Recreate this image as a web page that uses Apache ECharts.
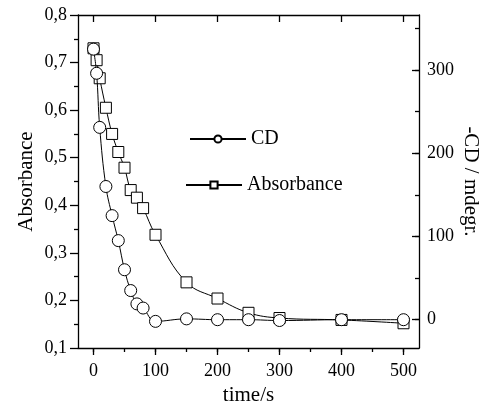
<!DOCTYPE html>
<html>
<head>
<meta charset="utf-8">
<script src="https://cdn.jsdelivr.net/npm/echarts@6/dist/echarts.min.js"></script>
<style>
html,body{margin:0;padding:0;background:#fff;}
#chart{width:486px;height:406px;}
</style>
</head>
<body>
<div id="chart"></div>
<script>
// Data
var time = [0, 5, 10, 20, 30, 40, 50, 60, 70, 80, 100, 150, 200, 250, 300, 400, 500];
var cdValues = [325, 296, 231, 160, 125, 95, 60, 35, 19, 14, -2, 1, 0, 0, -1, 0, 0];
var absorbanceValues = [0.730, 0.705, 0.667, 0.605, 0.550, 0.512, 0.479, 0.432, 0.416, 0.394, 0.338, 0.238, 0.204, 0.174, 0.163, 0.159, 0.152];
var xTickLabels = [0, 100, 200, 300, 400, 500];
var xMinorTicks = [0, 50, 100, 150, 200, 250, 300, 350, 400, 450, 500];
var cdTickLabels = [0, 100, 200, 300];
var cdMinorTicks = [0, 50, 100, 150, 200, 250, 300, 350];

var FONT = 'Liberation Serif';
function pairs(xs, ys) { return xs.map(function (x, i) { return [x, ys[i]]; }); }

var chart = echarts.init(document.getElementById('chart'), null, {renderer: 'canvas'});
var lineStyleAxis = {color: '#000', width: 1.3};
var option = {
  backgroundColor: '#fff',
  animation: false,
  textStyle: {fontFamily: FONT, color: '#000'},
  grid: {left: 78, right: 67, top: 15, bottom: 58, containLabel: false, outerBoundsMode: 'none'},
  legend: [
    {data: ['CD'], left: 189, top: 129, padding: 0, itemWidth: 56, itemHeight: 9, itemGap: 5,
     textStyle: {fontFamily: FONT, fontSize: 20, color: '#000'}},
    {data: ['Absorbance'], left: 185, top: 175, padding: 0, itemWidth: 56, itemHeight: 9, itemGap: 5,
     textStyle: {fontFamily: FONT, fontSize: 20, color: '#000'}}
  ],
  xAxis: [
    {type: 'value', min: -25, max: 525, position: 'bottom',
     name: 'time/s', nameLocation: 'middle', nameGap: 37, nameMoveOverlap: false,
     nameTextStyle: {fontFamily: FONT, fontSize: 21, color: '#000'},
     axisLine: {show: true, onZero: false, lineStyle: lineStyleAxis},
     axisTick: {show: true, customValues: xTickLabels, length: 7, lineStyle: lineStyleAxis},
     axisLabel: {show: true, customValues: xTickLabels, margin: 14, fontFamily: FONT, fontSize: 18, color: '#000'},
     splitLine: {show: false}},
    {type: 'value', min: -25, max: 525, position: 'bottom',
     axisLine: {show: false, onZero: false},
     axisTick: {show: true, customValues: xMinorTicks, length: 4, lineStyle: lineStyleAxis},
     axisLabel: {show: false}, splitLine: {show: false}},
    {type: 'value', min: -25, max: 525, position: 'top',
     axisLine: {show: true, onZero: false, lineStyle: lineStyleAxis},
     axisTick: {show: true, inside: true, customValues: xTickLabels, length: 7, lineStyle: lineStyleAxis},
     axisLabel: {show: false}, splitLine: {show: false}}
  ],
  yAxis: [
    {type: 'value', min: 0.1, max: 0.8, interval: 0.1, position: 'left',
     name: 'Absorbance', nameLocation: 'middle', nameGap: 41, nameMoveOverlap: false,
     nameTextStyle: {fontFamily: FONT, fontSize: 21, color: '#000'},
     axisLine: {show: true, onZero: false, lineStyle: lineStyleAxis},
     axisTick: {show: true, length: 8, lineStyle: lineStyleAxis},
     minorTick: {show: true, splitNumber: 2, length: 4, lineStyle: {color: '#000', width: 1.3}},
     axisLabel: {margin: 11, fontFamily: FONT, fontSize: 18, color: '#000',
       formatter: function (v) { return v.toFixed(1).replace('.', ','); }},
     splitLine: {show: false}},
    {type: 'value', min: -34, max: 366, position: 'right',
     name: '-CD / mdegr.', nameLocation: 'middle', nameGap: 41, nameRotate: -90, nameMoveOverlap: false,
     nameTextStyle: {fontFamily: FONT, fontSize: 21, color: '#000'},
     axisLine: {show: true, onZero: false, lineStyle: lineStyleAxis},
     axisTick: {show: true, inside: true, customValues: cdTickLabels, length: 7, lineStyle: lineStyleAxis},
     axisLabel: {show: true, customValues: cdTickLabels, margin: 8, fontFamily: FONT, fontSize: 18, color: '#000'},
     splitLine: {show: false}},
    {type: 'value', min: -34, max: 366, position: 'right',
     axisLine: {show: false, onZero: false},
     axisTick: {show: true, inside: true, customValues: cdMinorTicks, length: 4, lineStyle: lineStyleAxis},
     axisLabel: {show: false}, splitLine: {show: false}}
  ],
  series: [
    {name: 'Absorbance', type: 'line', xAxisIndex: 0, yAxisIndex: 0,
     data: pairs(time, absorbanceValues), smooth: 0.4,
     symbol: 'rect', symbolSize: 11,
     lineStyle: {color: '#000', width: 1},
     itemStyle: {color: '#fff', borderColor: '#000', borderWidth: 1},
     z: 2},
    {name: 'CD', type: 'line', xAxisIndex: 0, yAxisIndex: 1,
     data: pairs(time, cdValues), smooth: 0.4,
     symbol: 'circle', symbolSize: 12,
     lineStyle: {color: '#000', width: 1},
     itemStyle: {color: '#fff', borderColor: '#000', borderWidth: 1},
     z: 3}
  ]
};
chart.setOption(option);
</script>
</body>
</html>
